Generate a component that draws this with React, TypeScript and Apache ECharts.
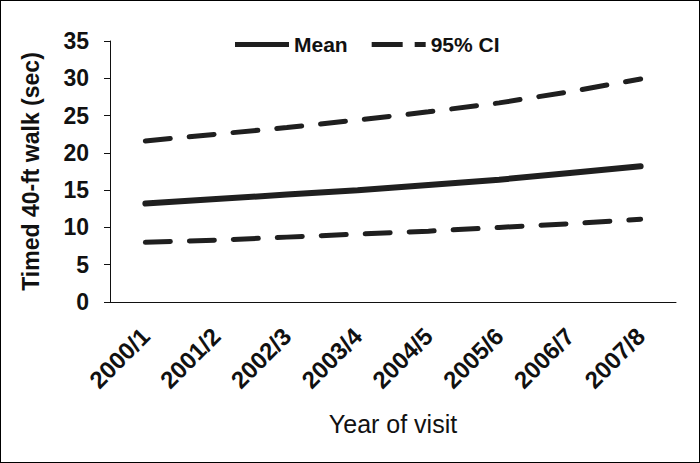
import React, { useEffect, useRef } from "react";
import * as echarts from "echarts";

const categories = ["2000/1", "2001/2", "2002/3", "2003/4", "2004/5", "2005/6", "2006/7", "2007/8"];
const meanValues = [13.2, 13.8, 14.4, 15.0, 15.7, 16.4, 17.3, 18.2];
const upperCI = [21.6, 22.5, 23.4, 24.4, 25.5, 26.7, 28.2, 29.9];
const lowerCI = [8.0, 8.3, 8.7, 9.1, 9.5, 10.0, 10.5, 11.1];

const LINE = "#1f1f1f";
const TEXT = "#111";

export default function App() {
  const ref = useRef<HTMLDivElement>(null);
  useEffect(() => {
    document.body.style.margin = "0";
    const chart = echarts.init(ref.current!, undefined, { renderer: "svg" });
    const font = "Liberation Sans, Arial, sans-serif";
    chart.setOption({
      animation: false,
      backgroundColor: "#fff",
      textStyle: { fontFamily: font },
      grid: { left: 109, right: 23, top: 40, bottom: 160 },
      legend: {
        top: 28,
        left: 229,
        itemWidth: 54,
        itemHeight: 5,
        itemGap: 24,
        textStyle: { fontSize: 21, fontWeight: "bold", color: TEXT, fontFamily: font },
        data: [
          { name: "Mean", icon: "path://M0,0H54V5H0Z" },
          { name: "95% CI", icon: "path://M0,0H31V5H0Z M43,0H54V5H43Z" },
        ],
      },
      xAxis: {
        type: "category",
        data: categories,
        boundaryGap: true,
        name: "Year of visit",
        nameLocation: "middle",
        nameGap: 109,
        nameMoveOverlap: false,
        nameTextStyle: { fontSize: 25, color: TEXT, fontFamily: font },
        axisLine: { lineStyle: { color: TEXT, width: 1 } },
        axisTick: { length: 6, lineStyle: { color: TEXT } },
        axisLabel: { rotate: 45, fontSize: 24, fontWeight: "bold", color: TEXT, margin: 30, fontFamily: font },
      },
      yAxis: {
        type: "value",
        min: 0,
        max: 35,
        interval: 5,
        name: "Timed 40-ft walk (sec)",
        nameLocation: "middle",
        nameGap: 68,
        nameMoveOverlap: false,
        nameTextStyle: { fontSize: 23, fontWeight: "bold", color: TEXT, fontFamily: font },
        axisLine: { show: true, lineStyle: { color: TEXT, width: 1 } },
        axisTick: { show: true, length: 6, lineStyle: { color: TEXT } },
        splitLine: { show: false },
        axisLabel: { fontSize: 23, fontWeight: "bold", color: TEXT, margin: 21, fontFamily: font },
      },
      series: [
        {
          name: "Mean",
          type: "line",
          data: meanValues,
          symbol: "none",
          lineStyle: { color: LINE, width: 6, cap: "round" },
          itemStyle: { color: LINE },
        },
        {
          name: "95% CI",
          type: "line",
          data: upperCI,
          symbol: "none",
          lineStyle: { color: LINE, width: 5, type: [25, 19], cap: "round" },
          itemStyle: { color: LINE },
        },
        {
          name: "95% CI",
          type: "line",
          data: lowerCI,
          symbol: "none",
          lineStyle: { color: LINE, width: 5, type: [25, 19], cap: "round" },
          itemStyle: { color: LINE },
        },
      ],
    });
    return () => chart.dispose();
  }, []);
  return (
    <div
      ref={ref}
      style={{ width: 700, height: 463, boxSizing: "border-box", border: "1px solid #000" }}
    />
  );
}
